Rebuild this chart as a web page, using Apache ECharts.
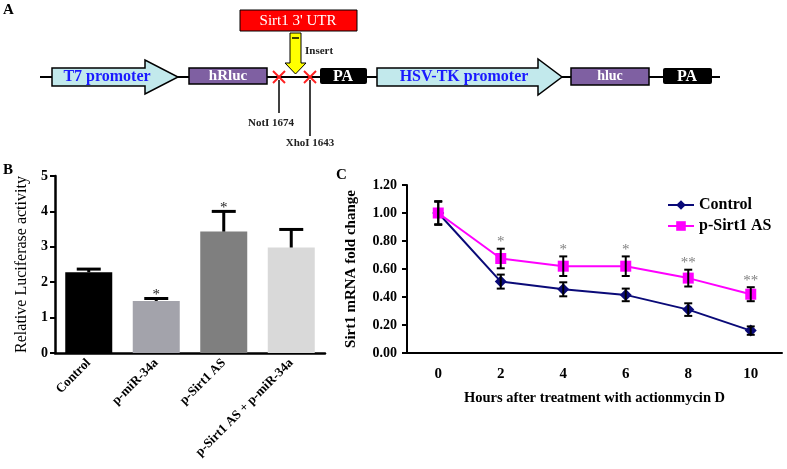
<!DOCTYPE html>
<html>
<head>
<meta charset="utf-8">
<script src="https://cdn.jsdelivr.net/npm/echarts@6/dist/echarts.min.js"></script>
<style>
html,body{margin:0;padding:0;background:#fff;}
#chart{width:787px;height:469px;}
</style>
</head>
<body>
<div id="chart"></div>
<script>
// ---- Panel B data ----
const luciferaseCategories = ['Control', 'p-miR-34a', 'p-Sirt1 AS', 'p-Sirt1 AS + p-miR-34a'];
const luciferaseValues = [2.28, 1.47, 3.43, 2.98];
const luciferaseErrors = [0.09, 0.07, 0.57, 0.51];
const luciferaseSig = ['', '*', '*', ''];
const luciferaseColors = ['#000000', '#a3a3ab', '#7f7f7f', '#d9d9d9'];
const luciferaseTicks = [0, 1, 2, 3, 4, 5];

// ---- Panel C data ----
const hours = ['0', '2', '4', '6', '8', '10'];
const controlValues = [1.00, 0.51, 0.455, 0.415, 0.31, 0.16];
const controlErrors = [0.08, 0.05, 0.05, 0.045, 0.045, 0.03];
const sirtASValues = [1.00, 0.675, 0.62, 0.62, 0.535, 0.42];
const sirtASErrors = [0.085, 0.07, 0.07, 0.07, 0.06, 0.05];
const sirtASSig = ['', '*', '*', '*', '**', '**'];
const foldTicks = [0, 0.2, 0.4, 0.6, 0.8, 1.0, 1.2];

const SERIF = "'Liberation Serif', 'Times New Roman', serif";

const chart = echarts.init(document.getElementById('chart'), null, {renderer: 'canvas'});

function errBarRender(caps, lw, color, sigArr, sigColor, oneSided, sigGap) {
  return function (params, api) {
    const idx = api.value(0);
    const v = api.value(1);
    const e = api.value(2);
    const top = api.coord([idx, v + e]);
    const bot = api.coord([idx, oneSided ? v : v - e]);
    const x = top[0];
    const children = [
      {type: 'line', shape: {x1: x, y1: top[1], x2: x, y2: bot[1]}, style: {stroke: color, lineWidth: lw}},
      {type: 'line', shape: {x1: x - caps, y1: top[1], x2: x + caps, y2: top[1]}, style: {stroke: color, lineWidth: lw}}
    ];
    if (!oneSided) {
      children.push({type: 'line', shape: {x1: x - caps, y1: bot[1], x2: x + caps, y2: bot[1]}, style: {stroke: color, lineWidth: lw}});
    }
    const s = sigArr[params.dataIndex];
    if (s) {
      children.push({type: 'text', style: {text: s, x: x, y: top[1] + sigGap, align: 'center', verticalAlign: 'bottom',
        font: '15px ' + SERIF, fill: sigColor}});
    }
    return {type: 'group', children: children};
  };
}

const option = {
  animation: false,
  backgroundColor: '#ffffff',
  textStyle: {fontFamily: SERIF},
  grid: [
    {left: 55, top: 176, width: 270, height: 177},
    {left: 407, top: 185, width: 375, height: 168}
  ],
  legend: {
    show: true,
    data: ['Control', 'p-Sirt1 AS'],
    orient: 'vertical',
    left: 662,
    top: 192,
    itemWidth: 26,
    itemHeight: 12,
    itemGap: 5,
    textStyle: {fontFamily: SERIF, fontWeight: 'bold', fontSize: 16, color: '#000'}
  },
  xAxis: [
    {
      gridIndex: 0, type: 'category', data: luciferaseCategories,
      axisLine: {lineStyle: {color: '#000', width: 2.5}},
      axisTick: {alignWithLabel: true, length: 5, lineStyle: {color: '#000', width: 2}},
      axisLabel: {rotate: 45, interval: 0, margin: 8, fontFamily: SERIF, fontWeight: 'bold', fontSize: 13, color: '#000'}
    },
    {
      gridIndex: 1, type: 'category', data: hours,
      axisLine: {lineStyle: {color: '#000', width: 2}},
      axisTick: {length: 5, lineStyle: {color: '#000', width: 2}},
      axisLabel: {margin: 14, fontFamily: SERIF, fontWeight: 'bold', fontSize: 15, color: '#000'},
      name: 'Hours after treatment with actionmycin D', nameLocation: 'middle', nameGap: 38,
      nameTextStyle: {fontFamily: SERIF, fontWeight: 'bold', fontSize: 14.5, color: '#000'}
    }
  ],
  yAxis: [
    {
      gridIndex: 0, type: 'value', min: luciferaseTicks[0], max: luciferaseTicks[luciferaseTicks.length - 1], interval: 1,
      axisLine: {show: true, lineStyle: {color: '#000', width: 2.5}},
      axisTick: {show: true, length: 5, lineStyle: {color: '#000', width: 2}},
      splitLine: {show: false},
      axisLabel: {margin: 7, fontFamily: SERIF, fontWeight: 'bold', fontSize: 14, color: '#000'},
      name: 'Relative Luciferase activity', nameLocation: 'middle', nameGap: 25,
      nameTextStyle: {fontFamily: SERIF, fontSize: 16, color: '#000'}
    },
    {
      gridIndex: 1, type: 'value', min: foldTicks[0], max: foldTicks[foldTicks.length - 1], interval: 0.2,
      axisLine: {show: true, lineStyle: {color: '#000', width: 2}},
      axisTick: {show: true, length: 5, lineStyle: {color: '#000', width: 2}},
      splitLine: {show: false},
      axisLabel: {margin: 10, fontFamily: SERIF, fontWeight: 'bold', fontSize: 14, color: '#000',
        formatter: v => v.toFixed(2)},
      name: 'Sirt1 mRNA fold change', nameLocation: 'middle', nameGap: 48,
      nameTextStyle: {fontFamily: SERIF, fontWeight: 'bold', fontSize: 15, color: '#000'}
    }
  ],
  series: [
    {
      type: 'bar', xAxisIndex: 0, yAxisIndex: 0, barWidth: 47,
      data: luciferaseValues.map((v, i) => ({value: v, itemStyle: {color: luciferaseColors[i]}})),
      z: 2
    },
    {
      type: 'custom', xAxisIndex: 0, yAxisIndex: 0, z: 3,
      renderItem: errBarRender(12, 3, '#000', luciferaseSig, '#222', true, 4),
      encode: {x: 0, y: [1, 2]},
      data: luciferaseValues.map((v, i) => [i, v, luciferaseErrors[i]])
    },
    {
      name: 'Control', type: 'line', xAxisIndex: 1, yAxisIndex: 1,
      data: controlValues, symbol: 'diamond', symbolSize: 12,
      lineStyle: {color: '#0a0a78', width: 2}, itemStyle: {color: '#0a0a78'}, z: 4
    },
    {
      name: 'p-Sirt1 AS', type: 'line', xAxisIndex: 1, yAxisIndex: 1,
      data: sirtASValues, symbol: 'rect', symbolSize: 11,
      lineStyle: {color: '#ff00ff', width: 2}, itemStyle: {color: '#ff00ff'}, z: 5
    },
    {
      type: 'custom', xAxisIndex: 1, yAxisIndex: 1, z: 6,
      renderItem: errBarRender(4, 2, '#000', ['', '', '', '', '', ''], '#000', false, 0),
      encode: {x: 0, y: [1, 2]},
      data: controlValues.map((v, i) => [i, v, controlErrors[i]])
    },
    {
      type: 'custom', xAxisIndex: 1, yAxisIndex: 1, z: 6,
      renderItem: errBarRender(4, 2, '#000', sirtASSig, '#808080', false, 1),
      encode: {x: 0, y: [1, 2]},
      data: sirtASValues.map((v, i) => [i, v, sirtASErrors[i]])
    }
  ],
  graphic: [
    // panel letters
    {type: 'text', left: 3, top: 3, style: {text: 'A', font: 'bold 15px ' + SERIF, fill: '#000'}},
    {type: 'text', left: 3, top: 163, style: {text: 'B', font: 'bold 15px ' + SERIF, fill: '#000'}},
    {type: 'text', left: 336, top: 168, style: {text: 'C', font: 'bold 15px ' + SERIF, fill: '#000'}},
    // backbone line
    {type: 'line', shape: {x1: 40, y1: 77, x2: 720, y2: 77}, style: {stroke: '#000', lineWidth: 2}, z: 1},
    // T7 promoter arrow
    {type: 'polygon', shape: {points: [[52, 68], [145, 68], [145, 60], [178, 77], [145, 94], [145, 86], [52, 86]]},
      style: {fill: '#c2e9ec', stroke: '#000', lineWidth: 1.5}, z: 2},
    {type: 'text', z: 3, style: {text: 'T7 promoter', x: 107, y: 77, align: 'center', verticalAlign: 'middle', font: 'bold 16px ' + SERIF, fill: '#1a1aff'}},
    // hRluc
    {type: 'rect', shape: {x: 189, y: 68, width: 78, height: 16}, style: {fill: '#7f60a2', stroke: '#000', lineWidth: 1.5}, z: 2},
    {type: 'text', z: 3, style: {text: 'hRluc', x: 228, y: 76.5, align: 'center', verticalAlign: 'middle', font: 'bold 15px ' + SERIF, fill: '#fff'}},
    // PA 1
    {type: 'rect', shape: {x: 320, y: 68, width: 47, height: 16, r: 2}, style: {fill: '#000'}, z: 2},
    {type: 'text', z: 3, style: {text: 'PA', x: 343, y: 76.5, align: 'center', verticalAlign: 'middle', font: 'bold 16px ' + SERIF, fill: '#fff'}},
    // HSV-TK promoter arrow
    {type: 'polygon', shape: {points: [[377, 68], [538, 68], [538, 59], [562, 77], [538, 95], [538, 86], [377, 86]]},
      style: {fill: '#c2e9ec', stroke: '#000', lineWidth: 1.5}, z: 2},
    {type: 'text', z: 3, style: {text: 'HSV-TK promoter', x: 464, y: 77, align: 'center', verticalAlign: 'middle', font: 'bold 16px ' + SERIF, fill: '#1a1aff'}},
    // hluc
    {type: 'rect', shape: {x: 571, y: 68, width: 78, height: 17}, style: {fill: '#7f60a2', stroke: '#000', lineWidth: 1.5}, z: 2},
    {type: 'text', z: 3, style: {text: 'hluc', x: 610, y: 76.5, align: 'center', verticalAlign: 'middle', font: 'bold 14px ' + SERIF, fill: '#fff'}},
    // PA 2
    {type: 'rect', shape: {x: 663, y: 68, width: 49, height: 16, r: 2}, style: {fill: '#000'}, z: 2},
    {type: 'text', z: 3, style: {text: 'PA', x: 687, y: 76.5, align: 'center', verticalAlign: 'middle', font: 'bold 16px ' + SERIF, fill: '#fff'}},
    // Sirt1 3' UTR box
    {type: 'rect', shape: {x: 240, y: 10, width: 117, height: 21}, style: {fill: '#ff0000', stroke: '#000', lineWidth: 1}, z: 2},
    {type: 'text', z: 3, style: {text: "Sirt1 3' UTR", x: 298, y: 21, align: 'center', verticalAlign: 'middle', font: '15px ' + SERIF, fill: '#fff'}},
    // yellow insert arrow
    {type: 'polygon', shape: {points: [[290, 33], [301, 33], [301, 63], [306, 63], [295.5, 74], [285, 63], [290, 63]]},
      style: {fill: '#ffff00', stroke: '#000', lineWidth: 1}, z: 2},
    {type: 'line', shape: {x1: 292, y1: 38, x2: 299, y2: 38}, style: {stroke: '#000', lineWidth: 1.5}, z: 3},
    {type: 'text', z: 3, style: {text: 'Insert', x: 305, y: 51, align: 'left', verticalAlign: 'middle', font: 'bold 11px ' + SERIF, fill: '#222'}},
    // red X marks
    {type: 'line', shape: {x1: 273, y1: 71, x2: 285, y2: 83}, style: {stroke: '#ff2020', lineWidth: 2}, z: 3},
    {type: 'line', shape: {x1: 273, y1: 83, x2: 285, y2: 71}, style: {stroke: '#ff2020', lineWidth: 2}, z: 3},
    {type: 'line', shape: {x1: 304, y1: 71, x2: 316, y2: 83}, style: {stroke: '#ff2020', lineWidth: 2}, z: 3},
    {type: 'line', shape: {x1: 304, y1: 83, x2: 316, y2: 71}, style: {stroke: '#ff2020', lineWidth: 2}, z: 3},
    // site pointers
    {type: 'line', shape: {x1: 279, y1: 113, x2: 279, y2: 80}, style: {stroke: '#000', lineWidth: 1.5}, z: 3},
    {type: 'text', z: 3, style: {text: 'NotI 1674', x: 271, y: 123, align: 'center', verticalAlign: 'middle', font: 'bold 11px ' + SERIF, fill: '#222'}},
    {type: 'line', shape: {x1: 310, y1: 136, x2: 310, y2: 80}, style: {stroke: '#000', lineWidth: 1.5}, z: 3},
    {type: 'text', z: 3, style: {text: 'XhoI 1643', x: 310, y: 143, align: 'center', verticalAlign: 'middle', font: 'bold 11px ' + SERIF, fill: '#222'}}
  ]
};

chart.setOption(option);
</script>
</body>
</html>
